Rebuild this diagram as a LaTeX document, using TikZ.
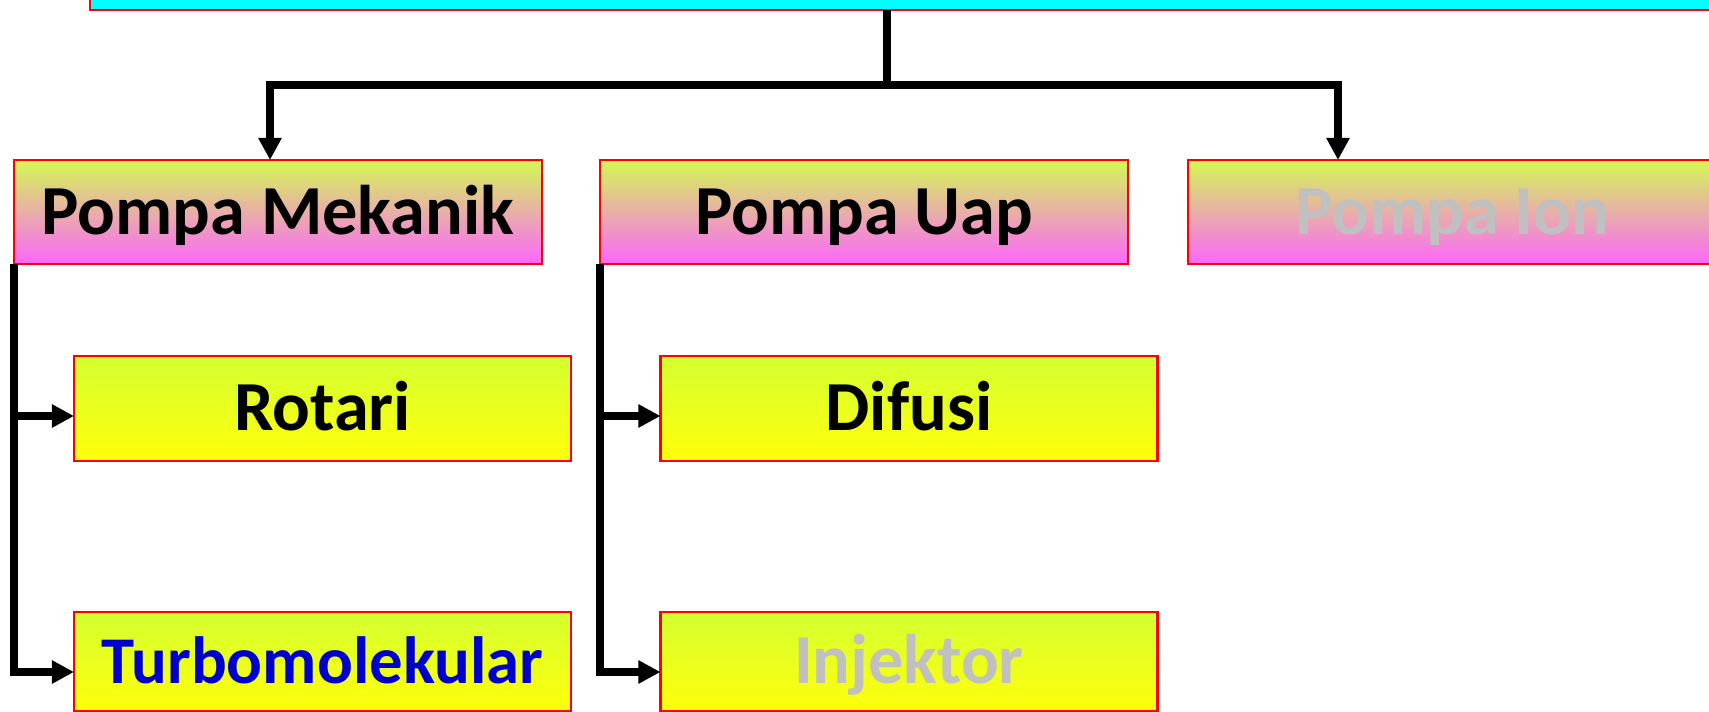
\documentclass[tikz,border=0pt]{standalone}
\usepackage{fontspec}
\setmainfont{Carlito}
\usetikzlibrary{arrows.meta,calc}

\definecolor{boxred}{RGB}{255,0,0}
\definecolor{headcyan}{RGB}{0,255,255}
\definecolor{limetop}{RGB}{212,248,84}
\definecolor{pinkbot}{RGB}{252,102,252}
\definecolor{greentop}{RGB}{212,255,48}
\definecolor{yellowbot}{RGB}{255,255,10}
\definecolor{textblue}{RGB}{0,0,204}
\definecolor{textgray}{RGB}{192,192,192}

\tikzset{
  box/.style={draw=boxred, line width=0.6pt, outer sep=0pt, inner sep=0pt,
    font=\fontsize{20pt}{24pt}\selectfont\bfseries,
    text height=12.7pt, text depth=0pt, align=center},
  catbox/.style={box, minimum width=52.8mm, minimum height=10.4mm,
    top color=limetop, bottom color=pinkbot},
  subbox/.style={box, minimum width=49.7mm, minimum height=10.5mm,
    top color=greentop, bottom color=yellowbot},
  link/.style={line width=2pt, black},
  arrowlink/.style={link, -{Triangle[length=6.3pt, width=6.3pt]}}
}

\begin{document}
\begin{tikzpicture}[x=0.1mm, y=-0.1mm]
  \useasboundingbox (0,0) rectangle (1709,712);
  \clip (0,0) rectangle (1709,712);

  % heading box, cut off at the top and right edge
  \node[box, fill=headcyan, minimum width=167mm, minimum height=6mm]
    (head) at (925,-20) {};

  % first level
  \node[catbox] (mek) at (278,212) {Pompa Mekanik};
  \node[catbox] (uap) at (864,212) {Pompa Uap};
  \node[catbox, text=textgray] (ion) at (1452,212) {Pompa Ion};

  % second level
  \node[subbox] (rot) at (322.5,408.5) {Rotari};
  \node[subbox, minimum height=9.9mm, text=textblue,
    font=\fontsize{19pt}{23pt}\selectfont\bfseries, text height=12.3pt]
    (turbo) at (322.5,661.5) {Turbomolekular};
  \node[subbox] (dif) at (909,408.5) {Difusi};
  \node[subbox, minimum height=9.9mm, text=textgray] (inj) at (909,661.5) {Injektor};

  % tree from the heading to the first level
  \coordinate (hub) at (887,85);
  \draw[link] (head.south -| hub) -- (hub);
  \draw[arrowlink] (hub) -| ($(mek.north west)+(256,0)$);
  \draw[arrowlink] (hub) -| ($(ion.north west)+(150,0)$);

  % branches of the mechanical pumps
  \coordinate (rotin) at ($(rot.north west)+(0,60)$);
  \coordinate (turboin) at ($(turbo.north west)+(0,60)$);
  \draw[arrowlink] (mek.south west) |- (turboin);
  \draw[arrowlink] (mek.south west |- rotin) -- (rotin);

  % branches of the vapour pumps
  \coordinate (difin) at ($(dif.north west)+(0,60)$);
  \coordinate (injin) at ($(inj.north west)+(0,60)$);
  \draw[arrowlink] (uap.south west) |- (injin);
  \draw[arrowlink] (uap.south west |- difin) -- (difin);
\end{tikzpicture}
\end{document}
